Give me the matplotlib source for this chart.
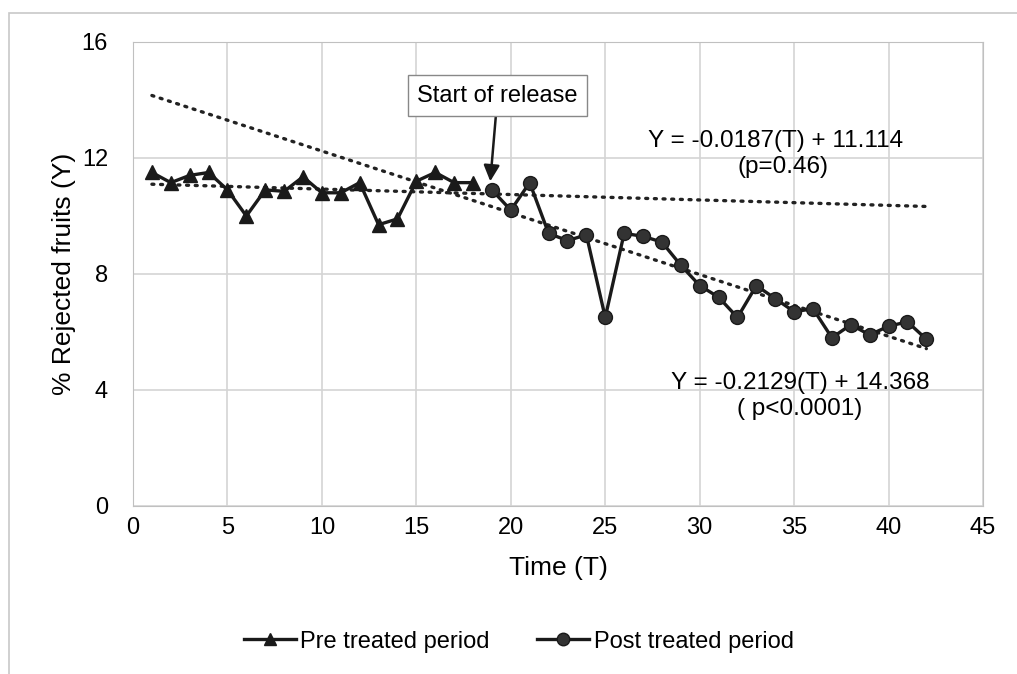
import matplotlib.pyplot as plt
import numpy as np

plt.rcParams['font.family'] = ['Liberation Sans', 'DejaVu Sans']

# pre treated period (T = 1..18)
pre_t = list(range(1, 19))
pre_y = [11.5, 11.15, 11.4, 11.5, 10.9, 10.0, 10.9, 10.85, 11.35, 10.8,
         10.8, 11.15, 9.7, 9.9, 11.2, 11.5, 11.15, 11.15]

# post treated period (T = 19..42)
post_t = list(range(19, 43))
post_y = [10.9, 10.2, 11.15, 9.4, 9.15, 9.35, 6.5, 9.4, 9.3, 9.1,
          8.3, 7.6, 7.2, 6.5, 7.6, 7.15, 6.7, 6.8, 5.8, 6.25,
          5.9, 6.2, 6.35, 5.75]

# regression lines
flat_slope, flat_icpt = -0.0187, 11.114
steep_slope, steep_icpt = -0.2129, 14.368
trend_t = np.array([1, 42])

fig = plt.figure(figsize=(10.17, 6.74), dpi=100)
ax = fig.add_axes([0.1308, 0.2493, 0.8358, 0.6884])

# outer frame
fig.patches.append(plt.Rectangle((0.009, -0.01), 1.2, 0.99, transform=fig.transFigure,
                                 fill=False, edgecolor='#c8c8c8', lw=1.2))

ax.plot(trend_t, flat_slope * trend_t + flat_icpt, color='#222222', lw=2.4,
        linestyle=(0, (0.6, 2.0)), dash_capstyle='round', zorder=2)
ax.plot(trend_t, steep_slope * trend_t + steep_icpt, color='#222222', lw=2.4,
        linestyle=(0, (0.6, 2.0)), dash_capstyle='round', zorder=2)

ax.plot(pre_t, pre_y, color='#1a1a1a', lw=2.4, marker='^', markersize=10,
        label='Pre treated period', zorder=3)
ax.plot(post_t, post_y, color='#1a1a1a', lw=2.4, marker='o', markersize=10,
        markerfacecolor='#333333', label='Post treated period', zorder=3)

ax.set_xlim(0, 45)
ax.set_ylim(0, 16)
ax.set_xticks(range(0, 46, 5))
ax.set_yticks(range(0, 17, 4))
ax.grid(True, color='#d4d4d4', lw=1.2)
ax.set_axisbelow(True)
for s in ax.spines.values():
    s.set_color('#c0c0c0')
ax.tick_params(length=0, labelsize=17)
ax.tick_params(axis='x', pad=8)
ax.tick_params(axis='y', pad=18)

ax.set_xlabel('Time (T)', fontsize=19, labelpad=12)
ax.set_ylabel('% Rejected fruits (Y)', fontsize=19, labelpad=4)

ax.annotate('Start of release', xy=(18.9, 11.1), xytext=(19.3, 14.15),
            fontsize=17, ha='center', va='center',
            bbox=dict(boxstyle='square,pad=0.4', fc='white', ec='#888888', lw=1),
            arrowprops=dict(arrowstyle='-|>', color='#1a1a1a', lw=1.8,
                            mutation_scale=24, shrinkA=0, shrinkB=2))

ax.text(34.0, 12.6, 'Y = -0.0187(T) + 11.114', fontsize=17.5, ha='center', va='center')
ax.text(34.4, 11.7, '(p=0.46)', fontsize=17.5, ha='center', va='center')
ax.text(35.3, 4.25, 'Y = -0.2129(T) + 14.368', fontsize=17.5, ha='center', va='center')
ax.text(35.3, 3.35, '( p<0.0001)', fontsize=17.5, ha='center', va='center')

fig.legend(loc='center', bbox_to_anchor=(0.51, 0.048), ncol=2, frameon=False,
           fontsize=17, handlelength=2.2, handletextpad=0.2, columnspacing=2.0,
           markerscale=0.9)

fig.savefig('out.png', dpi=100)
